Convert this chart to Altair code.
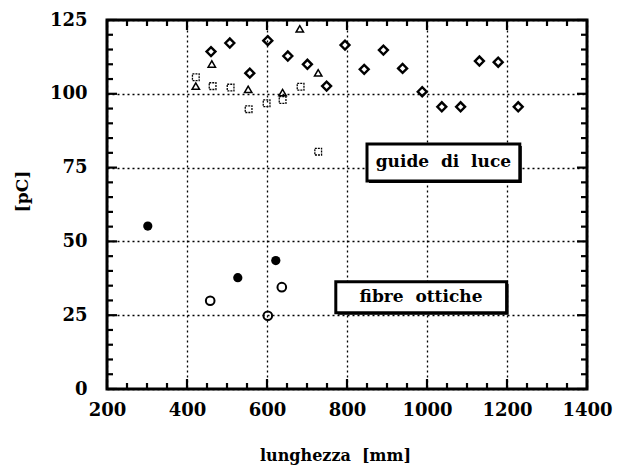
import altair as alt
import pandas as pd

# ---- data ----
dia_x = [460, 507, 602, 557, 652, 701, 749, 795, 843, 891, 939, 988, 1037, 1084, 1131, 1178, 1228]
dia_y = [114.3, 117.2, 118.0, 107.0, 112.8, 110.0, 102.6, 116.5, 108.3, 114.8, 108.6, 100.7, 95.6, 95.6, 111.1, 110.7, 95.6]

tri_x = [462, 422, 553, 639, 728, 682]
tri_y = [110.1, 102.6, 101.5, 100.4, 107.1, 122.0]

sq_x = [422, 464, 509, 554, 599, 639, 684, 728]
sq_y = [105.6, 102.6, 102.1, 94.8, 96.8, 97.9, 102.4, 80.4]

fill_x = [302, 527, 622]
fill_y = [55.2, 37.7, 43.5]

open_x = [458, 602, 637]
open_y = [29.9, 24.8, 34.5]

NB = "\u00a0"
box_labels = ["guide" + NB * 2 + "di" + NB * 2 + "luce", "fibre" + NB * 2 + "ottiche"]
box_x1 = [850, 772]
box_x2 = [1232, 1199]
box_y1 = [70.5, 25.8]
box_y2 = [83.0, 36.3]
box_tx = [1041, 985]
box_ty = [76.9, 31.2]

x_major = [200, 400, 600, 800, 1000, 1200, 1400]
y_major = [0, 25, 50, 75, 100, 125]
x_minor = [v for v in range(200, 1401, 50) if v not in x_major]
y_minor = [v for v in range(0, 126, 5) if v not in y_major]

W, H = 480, 369
FONT = "DejaVu Serif"

xs = alt.Scale(domain=[200, 1400], nice=False, zero=False)
ys = alt.Scale(domain=[0, 125], nice=False, zero=False)

xax = alt.Axis(values=x_major, format="d", grid=True, ticks=False, domain=False,
               gridColor="black", gridDash=[2, 3], gridWidth=1.3, gridOpacity=1,
               labelFont=FONT, labelFontWeight="bold", labelFontSize=18, labelColor="black",
               labelPadding=12, labelFlush=False,
               title="lunghezza" + NB * 2 + "[mm]", titleFont=FONT, titleFontWeight="bold",
               titleFontSize=16, titleColor="black", titleBaseline="alphabetic",
               titleY=71, titleX=228)
yax = alt.Axis(values=y_major, grid=True, ticks=False, domain=False,
               gridColor="black", gridDash=[2, 3], gridWidth=1.3, gridOpacity=1,
               labelFont=FONT, labelFontWeight="bold", labelFontSize=18, labelColor="black",
               labelPadding=20, labelFlush=False,
               title="[pC]", titleFont=FONT, titleFontWeight="bold", titleFontSize=17,
               titleColor="black", titleAngle=270, titleX=-85, titleY=171,
               titleBaseline="middle")

# base layer carries axes/grid
base_df = pd.DataFrame({"x": x_major[:1], "y": y_major[:1]})
base = alt.Chart(base_df).mark_point(opacity=0).encode(
    x=alt.X("x:Q", scale=xs, axis=xax),
    y=alt.Y("y:Q", scale=ys, axis=yax),
)

def pts(xv, yv, **kw):
    df = pd.DataFrame({"x": xv, "y": yv})
    return alt.Chart(df).mark_point(**kw).encode(
        x=alt.X("x:Q", scale=xs), y=alt.Y("y:Q", scale=ys))

dia = pts(dia_x, dia_y, shape="diamond", size=80, filled=False, color="black", strokeWidth=2.4, opacity=1)
tri = pts(tri_x, tri_y, shape="triangle-up", size=55, filled=False, color="black", strokeWidth=1.5, opacity=1)
sq = pts(sq_x, sq_y, shape="square", size=45, filled=False, color="black", strokeWidth=1.3,
         strokeDash=[2, 1], opacity=1)
fc = pts(fill_x, fill_y, shape="circle", size=85, filled=True, color="black", opacity=1)
oc = pts(open_x, open_y, shape="circle", size=75, filled=False, color="black", strokeWidth=2, opacity=1)

# ticks (inward, all four sides)
def xticks(vals, length):
    df = pd.DataFrame({"x": vals})
    b = alt.Chart(df).mark_rule(color="black", strokeWidth=2.2)
    bottom = b.encode(x=alt.X("x:Q", scale=xs), y=alt.value(H), y2=alt.value(H - length))
    top = b.encode(x=alt.X("x:Q", scale=xs), y=alt.value(0), y2=alt.value(length))
    return bottom + top

def yticks(vals, length):
    df = pd.DataFrame({"y": vals})
    b = alt.Chart(df).mark_rule(color="black", strokeWidth=2.2)
    left = b.encode(y=alt.Y("y:Q", scale=ys), x=alt.value(0), x2=alt.value(length))
    right = b.encode(y=alt.Y("y:Q", scale=ys), x=alt.value(W), x2=alt.value(W - length))
    return left + right

ticks = xticks(x_major, 10) + xticks(x_minor, 6) + yticks(y_major, 10) + yticks(y_minor, 6)

# annotation boxes
bdf = pd.DataFrame({"label": box_labels, "x1": box_x1, "x2": box_x2, "y1": box_y1, "y2": box_y2,
                    "tx": box_tx, "ty": box_ty})
shadow = alt.Chart(bdf).mark_rect(fill="black", xOffset=2, yOffset=2, x2Offset=2, y2Offset=2).encode(
    x=alt.X("x1:Q", scale=xs), x2="x2:Q", y=alt.Y("y1:Q", scale=ys), y2="y2:Q")
box = alt.Chart(bdf).mark_rect(fill="white", stroke="black", strokeWidth=3).encode(
    x=alt.X("x1:Q", scale=xs), x2="x2:Q", y=alt.Y("y1:Q", scale=ys), y2="y2:Q")
txt = alt.Chart(bdf).mark_text(font=FONT, fontWeight="bold", fontSize=17, color="black",
                               align="center", baseline="middle").encode(
    x=alt.X("tx:Q", scale=xs), y=alt.Y("ty:Q", scale=ys), text="label:N")

chart = alt.layer(base, ticks, dia, tri, sq, fc, oc, shadow, box, txt).properties(
    width=W, height=H,
    autosize=alt.AutoSizeParams(type="none"),
    padding={"left": 107, "top": 20, "right": 33, "bottom": 81},
    background="white",
).configure_view(stroke="black", strokeWidth=3)

chart.save("out.html", embed_options={"renderer": "svg", "actions": False})
